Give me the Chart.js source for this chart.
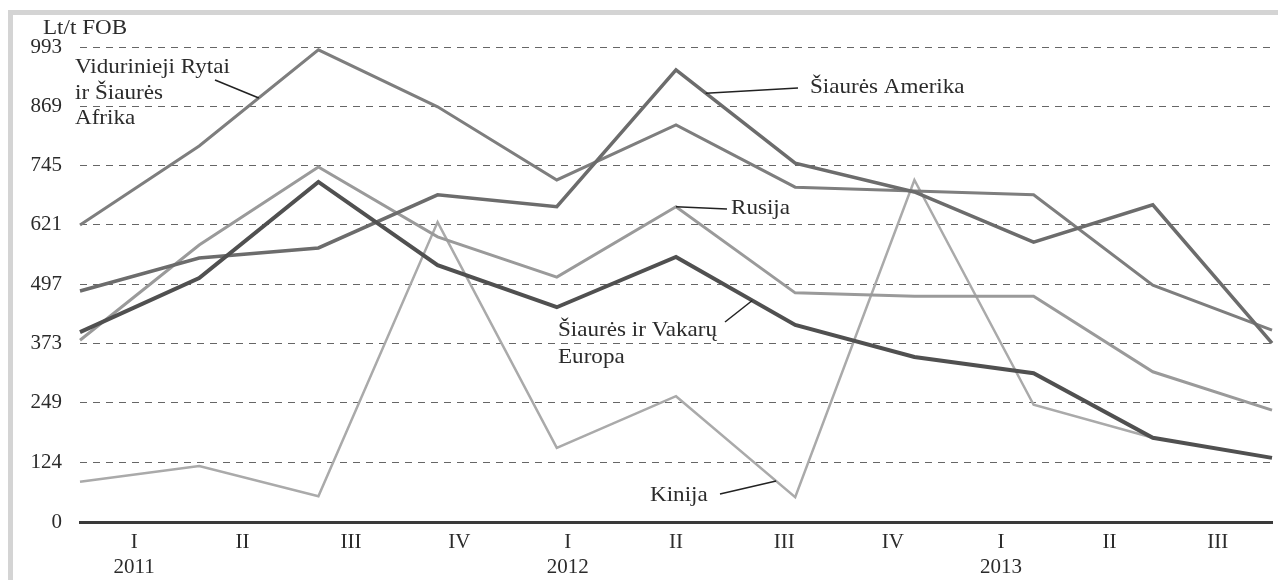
<!DOCTYPE html>
<html>
<head>
<meta charset="utf-8">
<script src="https://cdn.jsdelivr.net/npm/chart.js@4"></script>
<style>
  html, body { margin: 0; padding: 0; background: #fff; }
  #frame { position: absolute; left: 8px; top: 10px; width: 1270px; height: 570px;
           border-top: 5px solid #d4d4d4; border-left: 5px solid #d4d4d4; box-sizing: border-box; }
  #chart { position: absolute; left: 0; top: 0; }
</style>
</head>
<body>
<div id="frame"></div>
<canvas id="chart" width="1278" height="580"></canvas>
<script>
// quarters 2011 I .. 2013 III
const quarters = [['I', '2011'], 'II', 'III', 'IV', ['I', '2012'], 'II', 'III', 'IV', ['I', '2013'], 'II', 'III'];
const yTicks = [0, 124, 249, 373, 497, 621, 745, 869, 993];

// Lt/t FOB
const europa    = [397, 510, 711, 537, 449, 554, 412, 345, 311, 176, 134];
const amerika   = [483, 552, 573, 684, 659, 945, 750, 690, 585, 663, 374];
const rytai     = [621, 786, 987, 868, 715, 830, 700, 692, 684, 495, 401];
const rusija    = [380, 579, 742, 596, 512, 659, 479, 472, 472, 314, 234];
const kinija    = [84, 117, 54, 627, 155, 263, 52, 715, 245, 176, null];

const FAMILY = '"Liberation Serif", "Times New Roman", serif';
const FONT = { family: FAMILY, size: 21 };
const TEXT = '#2b2b2b';

function line(data, color, width) {
    return { data: data, borderColor: color, borderWidth: width, pointRadius: 0, tension: 0,
             fill: false, spanGaps: false, borderJoinStyle: 'miter' };
}

// point on a dataset's polyline at fractional index t
function pointOn(chart, ds, t) {
    const pts = chart.getDatasetMeta(ds).data;
    const i = Math.floor(t), f = t - i;
    const a = pts[i], b = pts[Math.min(i + 1, pts.length - 1)];
    return { x: a.x + (b.x - a.x) * f, y: a.y + (b.y - a.y) * f };
}

const labelsPlugin = {
    id: 'labels',
    afterDraw(chart) {
        const ctx = chart.ctx;
        ctx.save();
        ctx.font = '21px ' + FAMILY;
        ctx.fillStyle = TEXT;
        ctx.textAlign = 'left';
        ctx.textBaseline = 'middle';
        // the original face is a little wider than Times
        const txt = (s, x, y) => {
            ctx.save();
            ctx.translate(x, y);
            ctx.scale(1.1, 1);
            ctx.fillText(s, 0, 0);
            ctx.restore();
        };
        txt('Lt/t FOB', 43, 28);
        txt('Vidurinieji Rytai', 75, 67);
        txt('ir Šiaurės', 75, 93);
        txt('Afrika', 75, 118);
        txt('Šiaurės Amerika', 810, 87);
        txt('Rusija', 731, 208);
        txt('Šiaurės ir Vakarų', 558, 330);
        txt('Europa', 558, 357);
        txt('Kinija', 650, 495);

        // leader lines
        ctx.strokeStyle = '#222';
        ctx.lineWidth = 1.5;
        const leaders = [
            [{ x: 215, y: 80 }, pointOn(chart, 2, 1.5)],
            [pointOn(chart, 1, 5.25), { x: 798, y: 88 }],
            [pointOn(chart, 3, 5), { x: 727, y: 209 }],
            [{ x: 725, y: 322 }, pointOn(chart, 0, 5.64)],
            [{ x: 720, y: 494 }, pointOn(chart, 4, 5.84)]
        ];
        leaders.forEach(([a, b]) => {
            ctx.beginPath();
            ctx.moveTo(a.x, a.y);
            ctx.lineTo(b.x, b.y);
            ctx.stroke();
        });
        ctx.restore();
    }
};

new Chart(document.getElementById('chart').getContext('2d'), {
    type: 'line',
    data: {
        labels: quarters.map((q, i) => i),
        datasets: [
            line(europa, '#505050', 4),
            line(amerika, '#6c6c6c', 3.5),
            line(rytai, '#7e7e7e', 3),
            line(rusija, '#9a9a9a', 3),
            line(kinija, '#aaaaaa', 2.5)
        ]
    },
    options: {
        responsive: false,
        animation: false,
        layout: { padding: { top: 47, right: 6, left: 0, bottom: 0 } },
        plugins: { legend: { display: false }, tooltip: { enabled: false } },
        scales: {
            x: { type: 'category', display: false, offset: false },
            xq: {
                type: 'category',
                labels: quarters,
                position: 'bottom',
                offset: true,
                grid: { display: false, drawTicks: false },
                border: { display: true, color: '#3a3a3a', width: 3 },
                ticks: { font: FONT, color: TEXT, padding: 8, maxRotation: 0, autoSkip: false },
                afterFit: s => { s.height = 58; }
            },
            y: {
                min: 0,
                max: 993,
                afterBuildTicks: s => { s.ticks = yTicks.map(v => ({ value: v })); },
                ticks: { font: FONT, color: TEXT, padding: 18 },
                grid: {
                    color: c => c.tick.value === 0 ? 'rgba(0,0,0,0)' : '#666',
                    drawTicks: false,
                    lineWidth: 1
                },
                border: { display: false, dash: [7, 6] },
                afterFit: s => { s.width = 80; }
            }
        }
    },
    plugins: [labelsPlugin]
});
</script>
</body>
</html>
